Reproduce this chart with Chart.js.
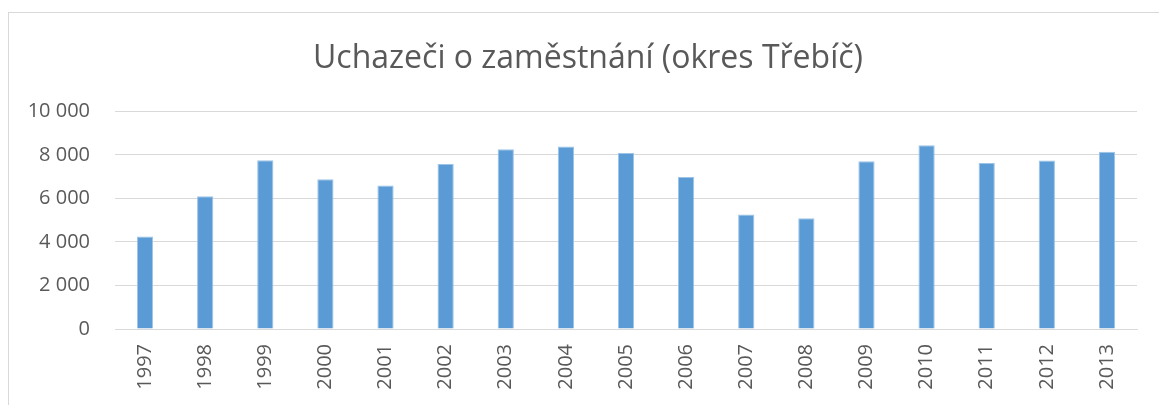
<!DOCTYPE html>
<html>
<head>
<meta charset="utf-8">
<script src="https://cdn.jsdelivr.net/npm/chart.js@4/dist/chart.umd.min.js"></script>
<style>
  html, body { margin: 0; padding: 0; background: #fff; }
  #wrap { position: relative; width: 1159px; height: 405px; overflow: hidden; }
  #frame { position: absolute; left: 8px; top: 12px; right: -2px; bottom: -2px;
           border-left: 1px solid #d9d9d9; border-top: 1px solid #d9d9d9; }
  canvas { position: absolute; left: 0; top: 0; }
</style>
</head>
<body>
<div id="wrap">
  <div id="frame"></div>
  <canvas id="chart" width="1159" height="405"></canvas>
</div>
<script>
// rok
var years = ["1997", "1998", "1999", "2000", "2001", "2002", "2003", "2004", "2005",
             "2006", "2007", "2008", "2009", "2010", "2011", "2012", "2013"];
// pocet uchazecu
var applicants = [4250, 6100, 7750, 6880, 6600, 7580, 8260, 8390, 8090,
                  6990, 5260, 5090, 7710, 8440, 7630, 7740, 8150];
var yTicks = [0, 2000, 4000, 6000, 8000, 10000];

function fmt(v) {
  return String(v).replace(/\B(?=(\d{3})+(?!\d))/g, " ");
}

// nadpis posunout trochu doprava (na stred celeho obrazku)
var shiftTitle = {
  id: "shiftTitle",
  afterLayout: function (chart) {
    if (chart.titleBlock) chart.titleBlock.left += 39;
  }
};

var ctx = document.getElementById("chart").getContext("2d");
var chart = new Chart(ctx, {
  type: "bar",
  data: {
    labels: years,
    datasets: [{
      label: "Uchazeči",
      data: applicants,
      backgroundColor: "#5b9bd5",
      borderColor: "#9dc3e6",
      borderWidth: { top: 1, left: 1, right: 1, bottom: 0 },
      barPercentage: 0.54,
      categoryPercentage: 0.5
    }]
  },
  options: {
    responsive: false,
    animation: false,
    layout: { padding: { left: 0, right: 22, top: 0, bottom: 0 } },
    plugins: {
      legend: { display: false },
      tooltip: { enabled: false },
      title: {
        display: true,
        text: "Uchazeči o zaměstnání (okres Třebíč)",
        color: "#595959",
        font: { family: "'Open Sans', sans-serif", size: 32, weight: "normal" },
        padding: { top: 40, bottom: 33 }
      }
    },
    scales: {
      x: {
        grid: { display: false, drawTicks: false },
        border: { display: true, color: "#d9d9d9", width: 1 },
        ticks: {
          color: "#595959",
          font: { family: "'Open Sans', sans-serif", size: 20 },
          minRotation: 90,
          maxRotation: 90,
          padding: 15
        },
        afterFit: function (s) { s.height = 76; }
      },
      y: {
        min: 0,
        max: 10000,
        afterBuildTicks: function (s) {
          s.ticks = yTicks.map(function (v) { return { value: v }; });
        },
        grid: { color: "#d9d9d9", lineWidth: 1, drawTicks: false },
        border: { display: false },
        ticks: {
          color: "#595959",
          font: { family: "'Open Sans', sans-serif", size: 20 },
          padding: 25,
          callback: function (v) { return fmt(v); }
        },
        afterFit: function (s) { s.width = 115; }
      }
    }
  },
  plugins: [shiftTitle]
});
</script>
</body>
</html>
